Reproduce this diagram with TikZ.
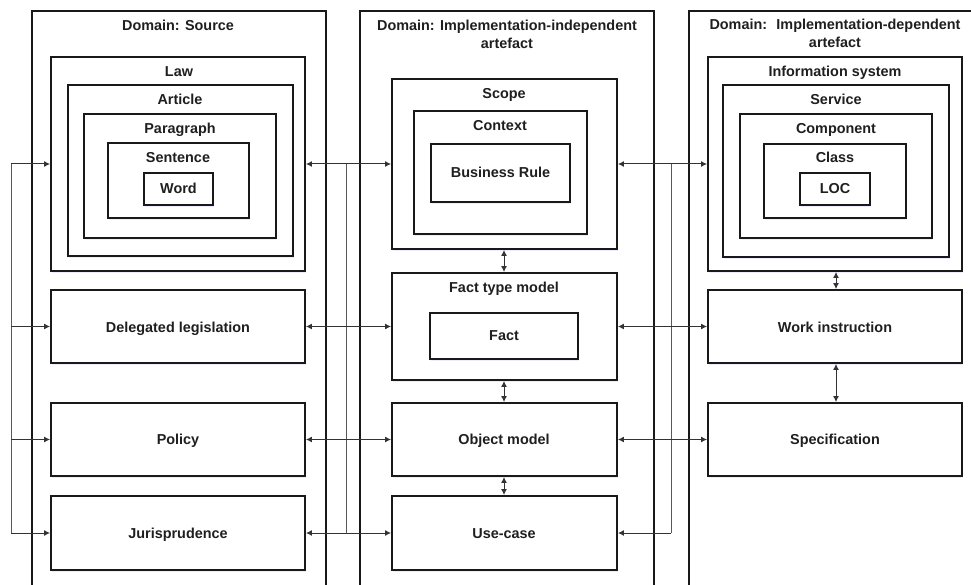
\documentclass[tikz,border=0pt]{standalone}
\usepackage{fontspec}
\setmainfont{Liberation Sans}
\usetikzlibrary{arrows.meta,shadows}
\begin{document}
\begin{tikzpicture}[x=1pt,y=-1pt,
  box/.style={draw=black!90, line width=1.9pt, fill=white, rectangle, inner sep=0pt,
    drop shadow={shadow xshift=1pt, shadow yshift=-1.6pt, fill=blue!7, opacity=1}},
  dom/.style={draw=black!90, line width=1.9pt, rectangle, inner sep=0pt},
  sz/.style 2 args={minimum width=#1pt, minimum height=#2pt},
  lbl/.style={font=\bfseries\fontsize{14.4}{18}\selectfont, text=black!88, inner sep=0pt,
    align=center, anchor=base},
  conn/.style={draw=black!80, line width=1pt},
  bus/.style={draw=black!65, line width=0.9pt},
  tipr/.style={-{Latex[length=6pt,width=6pt]}},
  tipb/.style={{Latex[length=6pt,width=6pt]}-{Latex[length=6pt,width=6pt]}}]
\useasboundingbox (0,0) rectangle (971,585);
\clip (0,0) rectangle (971,585);

% domain boxes (open at the bottom of the picture)
\node[dom, sz={294}{650}, anchor=north west] (dsrc) at (31,10) {};
\node[dom, sz={294}{650}, anchor=north west] (dind) at (359,10) {};
\node[dom, sz={320}{650}, anchor=north west] (ddep) at (688,10) {};

% source column
\node[box, sz={254}{214}] (law) at (178,164) {};
\node[box, sz={225}{171}] (article) at (180.5,170.5) {};
\node[box, sz={192}{124}] (para) at (180,176) {};
\node[box, sz={141}{75}] (sent) at (178.5,180.5) {};
\node[box, sz={69}{32}] (word) at (178.5,189) {};
\node[box, sz={254}{73}] (deleg) at (178,326.5) {};
\node[box, sz={254}{73}] (policy) at (178,439.5) {};
\node[box, sz={254}{74}] (juris) at (178,533) {};

% implementation-independent column
\node[box, sz={225}{170}] (scope) at (504.5,164) {};
\node[box, sz={173}{123}] (context) at (500.5,172.5) {};
\node[box, sz={139}{58}] (brule) at (500.5,173) {};
\node[box, sz={225}{107}] (ftm) at (504.5,326.5) {};
\node[box, sz={148}{46}] (fact) at (504,336) {};
\node[box, sz={225}{73}] (objm) at (504.5,439.5) {};
\node[box, sz={225}{74}] (usec) at (504.5,533) {};

% implementation-dependent column
\node[box, sz={254}{214}] (infs) at (835,164) {};
\node[box, sz={226}{172}] (serv) at (836,171) {};
\node[box, sz={192}{124}] (comp) at (836,176) {};
\node[box, sz={142}{74}] (cls) at (835,181) {};
\node[box, sz={70}{32}] (loc) at (835,189) {};
\node[box, sz={254}{73}] (work) at (835,326.5) {};
\node[box, sz={254}{73}] (spec) at (835,439.5) {};

% bus coordinates
\coordinate (bl1) at (11,164);
\coordinate (bl2) at (11,533);
\coordinate (bm1) at (346,164);
\coordinate (bm2) at (346,533);
\coordinate (br1) at (671,164);
\coordinate (br2) at (671,533);

% left bus
\draw[bus] (bl1) -- (bl2);
\draw[conn,tipr] (bl1) -- (law.west);
\draw[conn,tipr] (bl1 |- deleg.west) -- (deleg.west);
\draw[conn,tipr] (bl1 |- policy.west) -- (policy.west);
\draw[conn,tipr] (bl2) -- (juris.west);

% source <-> independent
\draw[bus] (bm1) -- (bm2);
\draw[conn,tipb] (law.east) -- (scope.west);
\draw[conn,tipb] (deleg.east) -- (ftm.west);
\draw[conn,tipb] (policy.east) -- (objm.west);
\draw[conn,tipb] (juris.east) -- (usec.west);

% independent <-> dependent
\draw[bus] (br1) -- (br2);
\draw[conn,tipb] (scope.east) -- (infs.west);
\draw[conn,tipb] (ftm.east) -- (work.west);
\draw[conn,tipb] (objm.east) -- (spec.west);
\draw[conn,tipr] (br2) -- (usec.east);

% vertical links
\draw[conn,tipb] (scope.south -| 504,0) -- (ftm.north -| 504,0);
\draw[conn,tipb] (ftm.south -| 504,0) -- (objm.north -| 504,0);
\draw[conn,tipb] (objm.south -| 504,0) -- (usec.north -| 504,0);
\draw[conn,tipb] (infs.south -| 836,0) -- (work.north -| 836,0);
\draw[conn,tipb] (work.south -| 836,0) -- (spec.north -| 836,0);

% labels (anchored at the baseline: cap centre + 5)
\node[lbl] (tsrc) at (178,30.5) {Domain: Source};
\node[lbl] (tlaw) at (179,77) {Law};
\node[lbl] (tart) at (180,105) {Article};
\node[lbl] (tpar) at (180,134) {Paragraph};
\node[lbl] (tsen) at (178,163) {Sentence};
\node[lbl] (twor) at (178.5,194) {Word};
\node[lbl] (tdel) at (178,332) {Delegated legislation};
\node[lbl] (tpol) at (178,444) {Policy};
\node[lbl] (tjur) at (178,538) {Jurisprudence};

\node[lbl] (tind) at (507,48.5) {Domain: Implementation-independent\\artefact};
\node[lbl] (tsco) at (504,99) {Scope};
\node[lbl] (tcon) at (500,131) {Context};
\node[lbl] (tbru) at (500.5,178) {Business Rule};
\node[lbl] (tftm) at (504,292) {Fact type model};
\node[lbl] (tfac) at (504,340) {Fact};
\node[lbl] (tobj) at (504,444) {Object model};
\node[lbl] (tuse) at (504,538) {Use-case};

\node[lbl] (tdep) at (835,48) {Domain:~ Implementation-dependent\\artefact};
\node[lbl] (tinf) at (835,77) {Information system};
\node[lbl] (tser) at (836,105) {Service};
\node[lbl] (tcom) at (836,134) {Component};
\node[lbl] (tcla) at (835,163) {Class};
\node[lbl] (tloc) at (835,194) {LOC};
\node[lbl] (twrk) at (835,332) {Work instruction};
\node[lbl] (tspe) at (835,444) {Specification};
\end{tikzpicture}
\end{document}
